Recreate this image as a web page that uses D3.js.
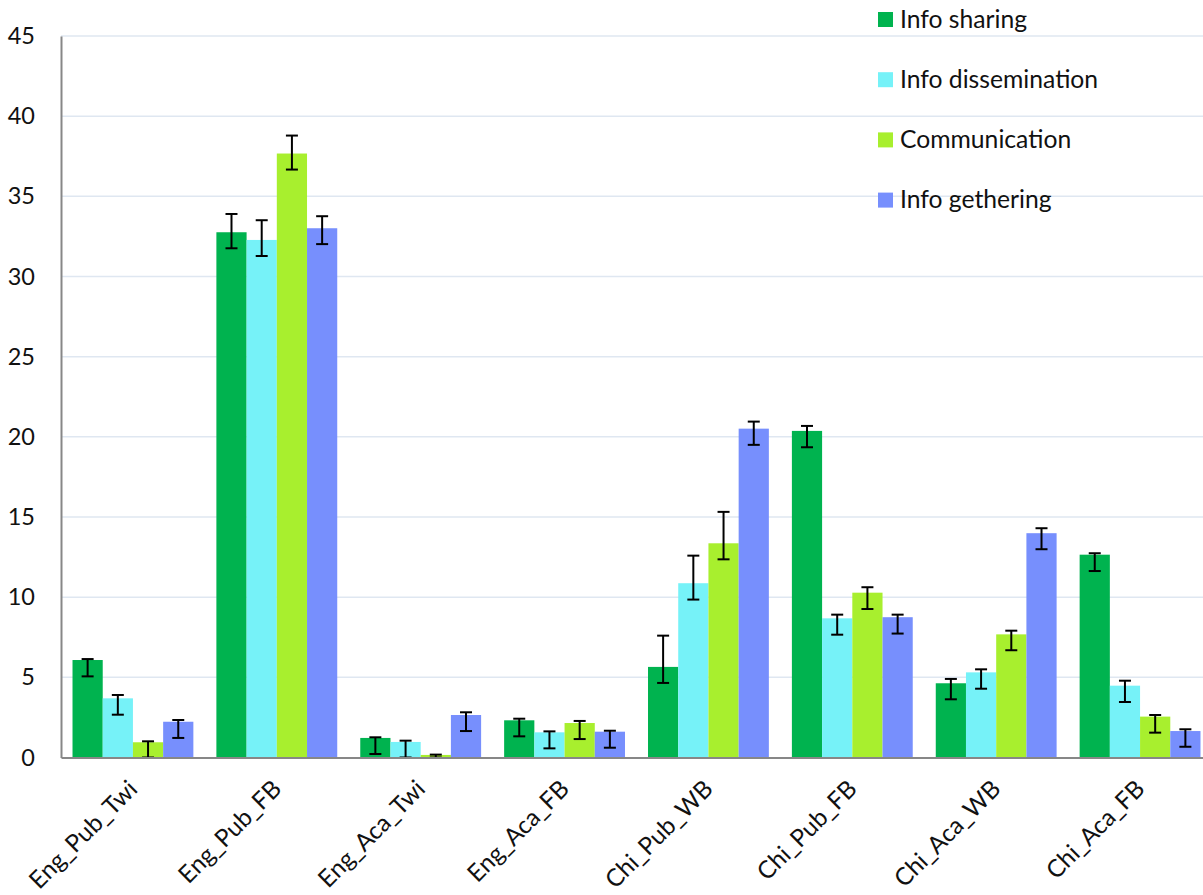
<!DOCTYPE html>
<html>
<head>
<meta charset="utf-8">
<script src="https://cdn.jsdelivr.net/npm/d3@7"></script>
<style>
  html, body { margin: 0; padding: 0; background: #fff; }
  svg { display: block; }
  text { font-family: Lato, "Open Sans", sans-serif; fill: #111; }
</style>
</head>
<body>
<svg id="chart" width="1203" height="895"></svg>
<script>
// Categories (language_audience_platform)
const categories = ["Eng_Pub_Twi", "Eng_Pub_FB", "Eng_Aca_Twi", "Eng_Aca_FB",
                    "Chi_Pub_WB", "Chi_Pub_FB", "Chi_Aca_WB", "Chi_Aca_FB"];
const seriesNames = ["Info sharing", "Info dissemination", "Communication", "Info gethering"];
const seriesColors = ["#00b34f", "#76f2f8", "#a8ef2e", "#778ffd"];
const yTicks = [0, 5, 10, 15, 20, 25, 30, 35, 40, 45];

// Bar heights per series
const infoSharing       = [6.08, 32.76, 1.22, 2.32, 5.65, 20.37, 4.63, 12.65];
const infoDissemination = [3.69, 32.28, 0.97, 1.57, 10.87, 8.68, 5.31, 4.48];
const communication     = [0.95, 37.67, 0.16, 2.15, 13.36, 10.28, 7.68, 2.55];
const infoGathering     = [2.23, 33.01, 2.65, 1.61, 20.51, 8.75, 13.99, 1.65];

// Error bar ends per series
const infoSharingLow        = [5.06, 31.76, 0.22, 1.32, 4.65, 19.35, 3.63, 11.63];
const infoSharingHigh       = [6.14, 33.90, 1.26, 2.42, 7.60, 20.68, 4.90, 12.74];
const infoDisseminationLow  = [2.67, 31.28, 0.00, 0.57, 9.85, 7.66, 4.29, 3.46];
const infoDisseminationHigh = [3.90, 33.51, 1.05, 1.63, 12.59, 8.91, 5.50, 4.79];
const communicationLow      = [0.00, 36.67, 0.00, 1.15, 12.36, 9.26, 6.69, 1.55];
const communicationHigh     = [1.01, 38.79, 0.18, 2.28, 15.32, 10.62, 7.91, 2.65];
const infoGatheringLow      = [1.22, 32.02, 1.65, 0.61, 19.50, 7.73, 12.99, 0.67];
const infoGatheringHigh     = [2.34, 33.76, 2.82, 1.67, 20.95, 8.91, 14.30, 1.76];

const values = [infoSharing, infoDissemination, communication, infoGathering];
const lows   = [infoSharingLow, infoDisseminationLow, communicationLow, infoGatheringLow];
const highs  = [infoSharingHigh, infoDisseminationHigh, communicationHigh, infoGatheringHigh];

const rows = [];
categories.forEach((c, ci) => {
  seriesNames.forEach((s, si) => {
    rows.push({ cat: c, series: s, si, value: values[si][ci], low: lows[si][ci], high: highs[si][ci] });
  });
});

const svg = d3.select("#chart");
const plotLeft = 61, plotRight = 1212, plotTop = 36, plotBottom = 757.5;
const fontStack = "Lato, 'Open Sans', sans-serif";

const x0 = d3.scaleBand().domain(categories).range([plotLeft, plotRight])
  .paddingInner(0.16).paddingOuter(0.08);
const x1 = d3.scaleBand().domain(seriesNames).range([0, x0.bandwidth()]);
const y = d3.scaleLinear().domain([0, 45]).range([plotBottom, plotTop]);
const color = d3.scaleOrdinal().domain(seriesNames).range(seriesColors);

// Horizontal gridlines
svg.append("g")
  .selectAll("line")
  .data(yTicks.filter(t => t > 0))
  .join("line")
  .attr("x1", plotLeft).attr("x2", 1203)
  .attr("y1", d => y(d)).attr("y2", d => y(d))
  .attr("stroke", "#dfe7f1").attr("stroke-width", 1.5);

// Bars
svg.append("g")
  .selectAll("rect")
  .data(rows)
  .join("rect")
  .attr("x", d => x0(d.cat) + x1(d.series))
  .attr("width", x1.bandwidth())
  .attr("y", d => y(d.value))
  .attr("height", d => y(0) - y(d.value))
  .attr("fill", d => color(d.series));

// Error bars
const capHalf = 6;
const eb = svg.append("g").attr("stroke", "#000").attr("stroke-width", 2);
rows.forEach(d => {
  const cx = x0(d.cat) + x1(d.series) + x1.bandwidth() / 2;
  eb.append("line").attr("x1", cx).attr("x2", cx).attr("y1", y(d.high)).attr("y2", y(d.low));
  eb.append("line").attr("x1", cx - capHalf).attr("x2", cx + capHalf).attr("y1", y(d.high)).attr("y2", y(d.high));
  eb.append("line").attr("x1", cx - capHalf).attr("x2", cx + capHalf).attr("y1", y(d.low)).attr("y2", y(d.low));
});

// Y axis
const yAxis = svg.append("g")
  .attr("transform", `translate(${plotLeft},0)`)
  .call(d3.axisLeft(y).tickValues(yTicks).tickSize(0).tickPadding(26).tickFormat(d3.format("d")));
yAxis.select(".domain").attr("stroke", "#878787").attr("stroke-width", 2);
yAxis.selectAll("text").attr("font-size", 23.5).attr("font-family", fontStack).attr("fill", "#111");

// X axis
const xAxis = svg.append("g")
  .attr("transform", `translate(0,${plotBottom})`)
  .call(d3.axisBottom(x0).tickSize(0).tickPadding(0));
xAxis.select(".domain").attr("stroke", "#878787").attr("stroke-width", 2);
xAxis.selectAll("text")
  .attr("font-size", 24.3)
  .attr("font-family", fontStack)
  .attr("fill", "#111")
  .attr("text-anchor", "end")
  .attr("dy", "0")
  .attr("transform", "translate(6,33) rotate(-45)");

// Legend
const legend = svg.append("g");
seriesNames.forEach((s, i) => {
  const cy = 19.5 + i * 60.2;
  legend.append("rect").attr("x", 878).attr("y", cy - 7.5).attr("width", 15).attr("height", 15).attr("fill", color(s));
  legend.append("text").attr("x", 900).attr("y", cy + 8)
    .attr("font-size", 24.7).attr("font-family", fontStack).text(s);
});
</script>
</body>
</html>
